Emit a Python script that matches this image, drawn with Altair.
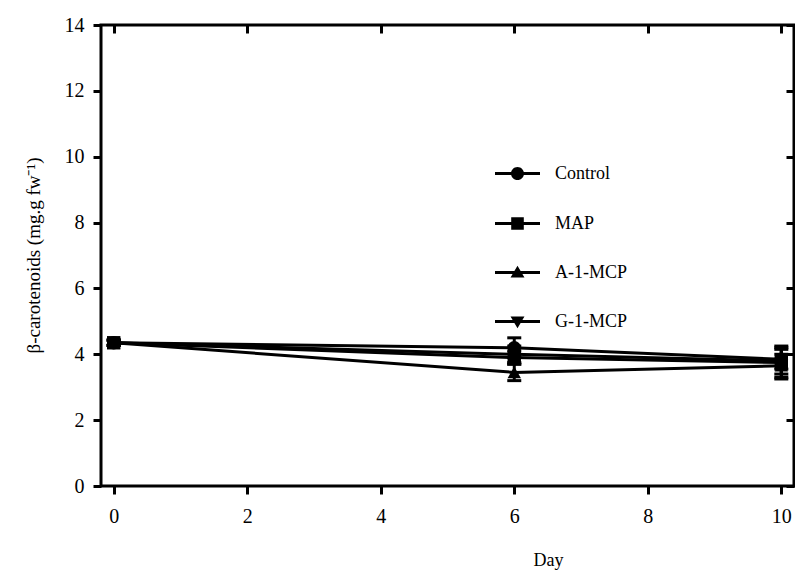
import altair as alt
import pandas as pd

days = [0, 6, 10]
series = ["Control", "MAP", "A-1-MCP", "G-1-MCP"]
control = [4.35, 4.20, 3.85]
map_ = [4.35, 3.90, 3.75]
a1mcp = [4.35, 3.45, 3.65]
g1mcp = [4.35, 4.00, 3.80]
control_err = [0.08, 0.30, 0.30]
map_err = [0.08, 0.20, 0.50]
a1mcp_err = [0.08, 0.25, 0.35]
g1mcp_err = [0.08, 0.25, 0.40]
marker_shapes = ["circle", "square", "triangle-up", "triangle-down"]

vals = [control, map_, a1mcp, g1mcp]
errs = [control_err, map_err, a1mcp_err, g1mcp_err]
rows = []
for s, v, e in zip(series, vals, errs):
    for d, y, er in zip(days, v, e):
        rows.append({"day": d, "series": s, "value": y, "lo": y - er, "hi": y + er})
df = pd.DataFrame(rows)

FONT = "Liberation Serif"
xs = alt.Scale(domain=[-0.19, 10.19], nice=False, zero=False)
ys = alt.Scale(domain=[0, 14], nice=False)

base = alt.Chart(df)

x_none = alt.X("day:Q", scale=xs, axis=None)
y_none = alt.Y("value:Q", scale=ys, axis=None)

lines = base.mark_line(color="black", strokeWidth=3).encode(
    x=alt.X("day:Q", scale=xs, title="Day",
            axis=alt.Axis(values=[0, 2, 4, 6, 8, 10], tickSize=8, tickWidth=3, tickColor="black",
                          domain=False, grid=False, labelFont=FONT, labelFontSize=20,
                          labelColor="black", labelPadding=12, titleFont=FONT, titleFontSize=18,
                          titleFontWeight="normal", titleColor="black", titleX=447,
                          titleY=79, titleBaseline="alphabetic")),
    y=alt.Y("value:Q", scale=ys, title="β-carotenoids (mg.g fw⁻¹)",
            axis=alt.Axis(values=[0, 2, 4, 6, 8, 10, 12, 14], tickSize=8, tickWidth=3,
                          tickColor="black", domain=False, grid=False, labelFont=FONT,
                          labelFontSize=20, labelColor="black", labelPadding=9,
                          titleFont=FONT, titleFontSize=19, titleFontWeight="normal",
                          titleColor="black", titleX=-68, titleY=230, titleAngle=270,
                          titleAlign="center", titleBaseline="middle")),
    detail="series:N",
)

rules = base.mark_rule(color="black", strokeWidth=3, opacity=1).encode(
    x=x_none, y=alt.Y("lo:Q", scale=ys, axis=None), y2="hi:Q"
)
cap_lo = base.mark_tick(color="black", thickness=3, size=14, orient="horizontal",
                        opacity=1).encode(
    x=x_none, y=alt.Y("lo:Q", scale=ys, axis=None)
)
cap_hi = base.mark_tick(color="black", thickness=3, size=14, orient="horizontal",
                        opacity=1).encode(
    x=x_none, y=alt.Y("hi:Q", scale=ys, axis=None)
)

point_layers = []
for s, shp in zip(series, marker_shapes):
    point_layers.append(
        base.transform_filter(alt.datum.series == s).mark_point(
            filled=True, color="black", opacity=1, size=180, shape=shp
        ).encode(x=x_none, y=y_none)
    )

BAR = "M-1,-0.07H1V0.07H-1Z"
legend_paths = [
    BAR + "M-0.29,0A0.29,0.29,0,1,1,0.29,0A0.29,0.29,0,1,1,-0.29,0Z",
    BAR + "M-0.28,-0.28H0.28V0.28H-0.28Z",
    BAR + "M0,-0.3L0.31,0.22H-0.31Z",
    BAR + "M0,0.3L-0.31,-0.22H0.31Z",
]

legend_layer = base.transform_filter("false").mark_point(
    filled=True, color="black", size=2025, opacity=1
).encode(
    x=alt.X("day:Q", scale=xs,
            axis=alt.Axis(orient="top", offset=-8, values=[0, 2, 4, 6, 8, 10], tickSize=8,
                          tickWidth=3, tickColor="black", domain=False, grid=False,
                          labels=False, title=None)),
    y=alt.Y("value:Q", scale=ys,
            axis=alt.Axis(orient="right", offset=-8, values=[0, 2, 4, 6, 8, 10, 12, 14],
                          tickSize=8, tickWidth=3, tickColor="black", domain=False,
                          grid=False, labels=False, title=None)),
    shape=alt.Shape("series:N", scale=alt.Scale(domain=series, range=legend_paths),
                    legend=alt.Legend(title=None, orient="none", legendX=393, legendY=125,
                                      symbolSize=2025, symbolFillColor="black",
                                      symbolOpacity=1, labelFont=FONT, labelFontSize=18,
                                      labelColor="black", labelOffset=14, rowPadding=16,
                                      padding=0)),
)

chart = alt.layer(lines, rules, cap_lo, cap_hi, *point_layers, legend_layer).resolve_axis(
    x="independent", y="independent"
).properties(
    width=693, height=461,
    padding={"left": 101, "top": 25, "right": 1, "bottom": 84},
    autosize="none",
    background="white",
).configure_view(stroke="black", strokeWidth=3)

chart.save("out.html", embed_options={"renderer": "svg", "actions": False})
